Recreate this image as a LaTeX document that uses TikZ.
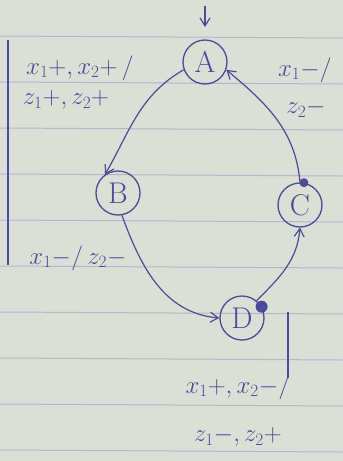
\documentclass[tikz,border=0pt]{standalone}
\usetikzlibrary{arrows.meta}
\definecolor{paper}{HTML}{DCDFD5}
\definecolor{rule}{HTML}{B7B3CF}
\definecolor{pen}{HTML}{4A4C96}
\begin{document}
\begin{tikzpicture}[x=1pt, y=-1pt, >={Straight Barb[length=8pt,width=10pt]},
    state/.style={draw=pen, circle, line width=1.3pt, minimum size=44pt, inner sep=0pt, text=pen, font=\fontsize{30}{32}\selectfont},
    edge/.style={->, draw=pen, line width=1.2pt},
    lbl/.style={text=pen, font=\fontsize{27}{30}\selectfont, inner sep=0pt}]
    \useasboundingbox (0,0) rectangle (343,461);
    \fill[paper] (0,0) rectangle (343,461);
    \foreach \y in {36,82,...,450} \draw[rule, line width=1pt] (0,\y) -- (343,\y+2);
    \draw[pen, line width=1.4pt] (8,40) -- (8,265);
    % states
    \node[state] (A) at (205,62) {A};
    \node[state] (B) at (118,193) {B};
    \node[state] (C) at (300,205) {C};
    \node[state] (D) at (242,318) {D};
    \coordinate (init) at (205,6);
    \coordinate (initend) at (205,27);
    \coordinate (tickA) at (288,312);
    \coordinate (tickB) at (288,378);
    % transitions
    \draw[edge] (init) -- (initend);
    \draw[edge] (A.200) to[out=210, in=60] (B.125);
    \draw[edge] (B.-80) to[out=-70, in=175] (D.west);
    \draw[edge] (D.50) to[out=45, in=-95] (C.south);
    \draw[edge] (C.north) to[out=95, in=-40] (A.-20);
    \draw[pen, line width=1.2pt] (tickA) -- (tickB);
    \fill[pen] (C.80) circle (4.5pt);
    \fill[pen] (D.30) circle (6pt);
    % labels
    \node[lbl] (ab1) at (80,68) {$x_1{+}, x_2{+}\,/$};
    \node[lbl] (ab2) at (66,100) {$z_1{+}, z_2{+}$};
    \node[lbl] (ca1) at (305,70) {$x_1{-}/$};
    \node[lbl] (ca2) at (306,108) {$z_2{-}$};
    \node[lbl] (bd) at (78,258) {$x_1{-}/\,z_2{-}$};
    \node[lbl] (dc1) at (238,387) {$x_1{+}, x_2{-}/$};
    \node[lbl] (dc2) at (238,437) {$z_1{-}, z_2{+}$};
\end{tikzpicture}
\end{document}
